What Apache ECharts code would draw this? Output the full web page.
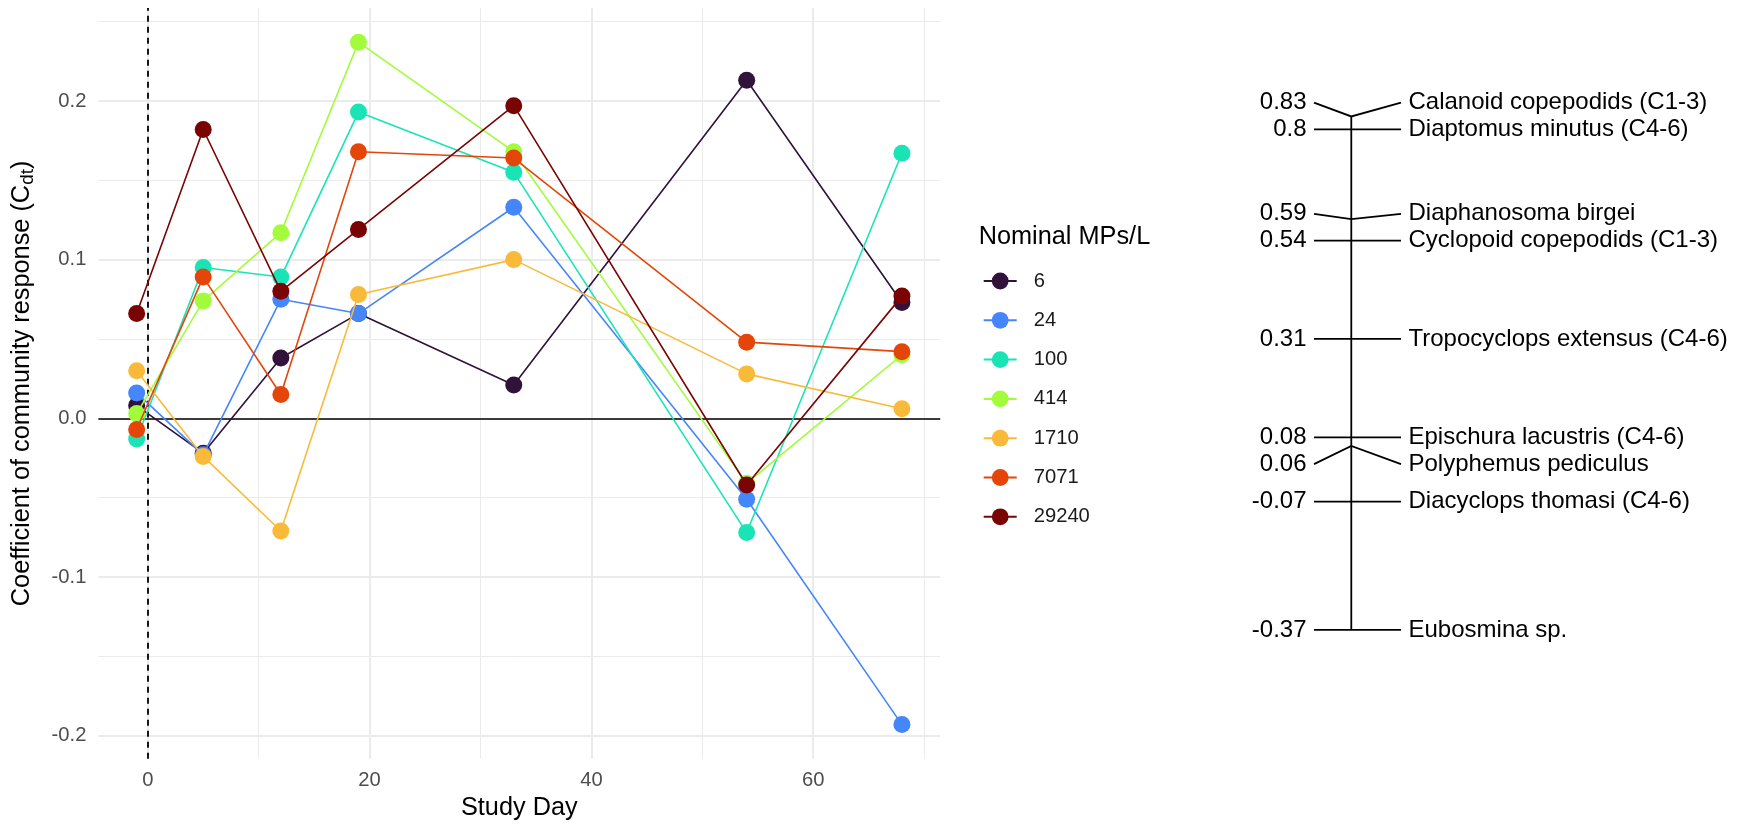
<!DOCTYPE html>
<html><head><meta charset="utf-8">
<script src="https://cdn.jsdelivr.net/npm/echarts@6/dist/echarts.min.js"></script>
<style>html,body{margin:0;padding:0;background:#fff;}#c{width:1739px;height:826px;}</style>
</head><body><div id="c"></div>
<script>
// ---- data ----
const days = [-1, 5, 12, 19, 33, 54, 68];
const groups = ['6', '24', '100', '414', '1710', '7071', '29240'];
const v6 = [0.008, -0.022, 0.038, 0.066, 0.021, 0.213, 0.073];
const v24 = [0.016, -0.023, 0.075, 0.066, 0.133, -0.051, -0.193];
const v100 = [-0.013, 0.095, 0.089, 0.193, 0.155, -0.072, 0.167];
const v414 = [0.003, 0.074, 0.117, 0.237, 0.168, -0.041, 0.040];
const v1710 = [0.030, -0.024, -0.071, 0.078, 0.100, 0.028, 0.006];
const v7071 = [-0.007, 0.089, 0.015, 0.168, 0.164, 0.048, 0.042];
const v29240 = [0.066, 0.182, 0.080, 0.119, 0.197, -0.042, 0.077];
const xTicks = [0, 20, 40, 60];
const xMinor = [10, 30, 50, 70];
const yTicks = [-0.2, -0.1, 0, 0.1, 0.2];
const yMinor = [-0.15, -0.05, 0.05, 0.15, 0.25];
const species = ['Calanoid copepodids (C1-3)', 'Diaptomus minutus (C4-6)', 'Diaphanosoma birgei',
  'Cyclopoid copepodids (C1-3)', 'Tropocyclops extensus (C4-6)', 'Epischura lacustris (C4-6)',
  'Polyphemus pediculus', 'Diacyclops thomasi (C4-6)', 'Eubosmina sp.'];
const speciesScores = [0.83, 0.8, 0.59, 0.54, 0.31, 0.08, 0.06, -0.07, -0.37];

// ---- styling ----
const seriesValues = [v6, v24, v100, v414, v1710, v7071, v29240];
const colors = ['#30123B', '#4686FB', '#1AE4B6', '#A2FC3C', '#FABA39', '#E4460A', '#7A0403'];
const FONT = 'Liberation Sans, Arial, sans-serif';
const TITLE_SIZE = 25.3, TEXT_SIZE = 20.2;
const LABEL_SPACING = 0.0625; // minimum label separation in score units (linestack)

function stackPositions(vals, ht) {
  const idx = vals.map((v, i) => i).sort((a, b) => vals[a] - vals[b]);
  const n = idx.length, mid = Math.floor((n + 1) / 2) - 1;
  const pos = new Array(n);
  pos[idx[mid]] = vals[idx[mid]];
  for (let k = mid + 1; k < n; k++) {
    let p = vals[idx[k]]; const prev = pos[idx[k - 1]];
    if (p < prev + ht) p = prev + ht; pos[idx[k]] = p;
  }
  for (let k = mid - 1; k >= 0; k--) {
    let p = vals[idx[k]]; const nxt = pos[idx[k + 1]];
    if (p > nxt - ht) p = nxt - ht; pos[idx[k]] = p;
  }
  return pos;
}
const labelPos = stackPositions(speciesScores, LABEL_SPACING);

const gridMajor = { color: '#EBEBEB', width: 2, type: 'solid' };
const gridMinor = { color: '#EBEBEB', width: 1, type: 'solid' };

const gridLines = [];
xMinor.forEach(v => gridLines.push({ xAxis: v, lineStyle: gridMinor }));
yMinor.forEach(v => gridLines.push({ yAxis: v, lineStyle: gridMinor }));
xTicks.forEach(v => gridLines.push({ xAxis: v, lineStyle: gridMajor }));
yTicks.forEach(v => gridLines.push({ yAxis: v, lineStyle: gridMajor }));

const series = [
  {
    type: 'line', xAxisIndex: 0, yAxisIndex: 0, data: [[0, 0]], showSymbol: false, symbolSize: 0,
    lineStyle: { opacity: 0 }, silent: true, z: 0,
    markLine: { silent: true, symbol: ['none', 'none'], label: { show: false }, z: 0,
      emphasis: { disabled: true }, animation: false, data: gridLines }
  },
  {
    type: 'line', xAxisIndex: 0, yAxisIndex: 0, data: [[0, 0]], showSymbol: false, symbolSize: 0,
    lineStyle: { opacity: 0 }, silent: true, z: 1,
    markLine: { silent: true, symbol: ['none', 'none'], label: { show: false }, z: 1,
      emphasis: { disabled: true }, animation: false,
      data: [
        { yAxis: 0, lineStyle: { color: '#000', width: 1.6, type: 'solid' } },
        { xAxis: 0, lineStyle: { color: '#000', width: 1.8, type: [6, 5] } }
      ] }
  }
];

groups.forEach((g, i) => {
  series.push({
    name: g, type: 'line', xAxisIndex: 0, yAxisIndex: 0,
    data: days.map((d, k) => [d, seriesValues[i][k]]),
    symbol: 'circle', symbolSize: 17, showSymbol: true,
    lineStyle: { color: colors[i], width: 1.6 },
    itemStyle: { color: colors[i], borderWidth: 0 },
    emphasis: { disabled: true }, z: 10 + i
  });
});

// right panel: linestack of species scores
series.push({
  type: 'line', xAxisIndex: 1, yAxisIndex: 1,
  data: [[0, Math.max(...speciesScores)], [0, Math.min(...speciesScores)]],
  showSymbol: false, symbol: 'none', lineStyle: { color: '#000', width: 1.8 }, silent: true, z: 5
});
series.push({
  type: 'custom', xAxisIndex: 1, yAxisIndex: 1, silent: true, z: 5,
  data: speciesScores.map((v, i) => [v, labelPos[i], i]),
  encode: { y: 0 },
  renderItem: function (params, api) {
    const v = api.value(0), lp = api.value(1), i = api.value(2);
    const p0 = api.coord([0, v]);
    const pl = api.coord([-0.75, lp]);
    const pr = api.coord([1, lp]);
    return {
      type: 'group', children: [
        { type: 'polyline', shape: { points: [pl, p0, pr] },
          style: { stroke: '#000', lineWidth: 1.8, fill: 'none' } },
        { type: 'text', x: pl[0] - 7.5, y: pl[1],
          style: { text: String(v), align: 'right', verticalAlign: 'middle', fontSize: 24, fontFamily: FONT, fill: '#000' } },
        { type: 'text', x: pr[0] + 7.5, y: pr[1],
          style: { text: species[i], align: 'left', verticalAlign: 'middle', fontSize: 24, fontFamily: FONT, fill: '#000' } }
      ]
    };
  }
});

const chart = echarts.init(document.getElementById('c'), null, { renderer: 'canvas' });
chart.setOption({
  animation: false,
  backgroundColor: '#fff',
  textStyle: { fontFamily: FONT },
  grid: [
    { left: 98.4, top: 8.1, width: 841.8, height: 750.6, containLabel: false, outerBoundsMode: 'none' },
    { left: 1314, top: 43.7, width: 87, height: 641.9, containLabel: false, outerBoundsMode: 'none' }
  ],
  xAxis: [
    {
      type: 'value', gridIndex: 0, min: -4.45, max: 71.45,
      axisLine: { show: false }, axisTick: { show: false }, splitLine: { show: false },
      axisLabel: { customValues: xTicks, formatter: v => String(v), color: '#4D4D4D', fontSize: TEXT_SIZE, margin: 12 },
      name: 'Study Day', nameLocation: 'middle', nameGap: 37,
      nameTextStyle: { fontSize: TITLE_SIZE, color: '#000' }
    },
    { type: 'value', gridIndex: 1, min: -0.75, max: 1, show: false }
  ],
  yAxis: [
    {
      type: 'value', gridIndex: 0, min: -0.2145, max: 0.2585,
      axisLine: { show: false }, axisTick: { show: false }, splitLine: { show: false },
      axisLabel: { customValues: yTicks, formatter: v => v.toFixed(1), color: '#4D4D4D', fontSize: TEXT_SIZE, margin: 12 },
      name: '{t|Coefficient of community response (C}{s|dt}{t|)}',
      nameLocation: 'middle', nameRotate: 90, nameGap: 61,
      nameTextStyle: {
        rich: {
          t: { fontSize: TITLE_SIZE, color: '#000', lineHeight: 28, verticalAlign: 'top', fontFamily: FONT },
          s: { fontSize: 19, color: '#000', lineHeight: 17, verticalAlign: 'bottom', fontFamily: FONT }
        }
      }
    },
    { type: 'value', gridIndex: 1, min: -0.5, max: 1.0, show: false }
  ],
  legend: {
    data: groups, orient: 'vertical', left: 982.7, top: 271, padding: 0,
    itemWidth: 33, itemHeight: 21, itemGap: 19.3, selectedMode: false,
    textStyle: { fontSize: TEXT_SIZE, color: '#1A1A1A', fontFamily: FONT, padding: [0, 0, 0, 12] }
  },
  graphic: [
    { type: 'text', left: 978.7, top: 224.5, style: { text: 'Nominal MPs/L', fontSize: TITLE_SIZE, fill: '#000', fontFamily: FONT } }
  ],
  series: series
});
</script>
</body></html>
